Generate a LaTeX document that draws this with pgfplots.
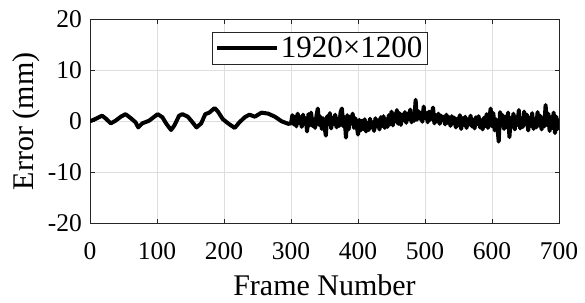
\documentclass[border=0pt]{standalone}
\usepackage{fontspec}
\setmainfont{Liberation Serif}
\usepackage{pgfplots}
\pgfplotsset{compat=1.18}
\definecolor{gridgray}{RGB}{222,222,222}
\definecolor{axgray}{RGB}{38,38,38}
\pgfplotstableread{
f y
0 0
8 0.45
18 1.1
23 0.6
31 -0.4
38 0.1
46 0.9
53 1.4
61 0.6
68 -0.2
72 -1.2
78 -0.4
88 0.1
96 0.9
101 1.4
108 0.8
114 -0.5
121 -1.7
126 -0.8
133 1.1
138 1.4
146 0.9
153 -0.2
159 -1.2
166 -0.4
172 1.4
178 1.7
186 2.6
191 1.9
198 0.45
206 -0.4
216 -1.3
223 -0.2
231 0.8
238 1.3
246 0.9
256 1.7
266 1.5
276 0.9
286 0.0
296 -0.5
300 -0.4
302 1.2
304 -0.6
306 0.9
308 -1.0
310 1.5
312 -0.3
314 0.8
316 -1.1
318 1.3
320 -0.5
322 0.6
324 -2.0
326 1.4
328 -0.8
330 1.7
332 -0.9
334 0.4
336 -1.3
338 1.1
340 2.5
342 -0.7
344 0.9
346 -1.5
348 0.6
350 -1.1
352 -2.8
354 1.0
356 -0.6
358 1.6
360 -1.4
362 0.7
364 -0.5
366 1.3
368 -1.2
370 0.5
372 -0.9
374 1.8
376 2.5
378 -1.0
380 0.8
382 -3.2
384 1.2
386 -1.6
388 0.9
390 -0.4
392 1.5
394 -1.3
396 0.6
398 -0.8
400 -2.6
402 0.3
404 -1.8
406 0.1
408 -1.5
410 0.4
412 -2.0
414 -0.3
416 -1.7
418 0.5
420 -1.2
422 -0.2
424 -1.9
426 0.6
428 -1.0
430 0.2
432 -1.6
434 0.8
436 -0.9
438 1.0
440 -1.3
442 0.4
444 -1.1
446 1.2
448 -0.6
450 1.9
452 -0.8
454 1.4
456 0.0
458 2.2
460 -0.5
462 1.6
464 -0.7
466 1.3
468 0.2
470 1.8
472 -0.3
474 1.5
476 0.4
478 2.3
480 -0.2
482 1.2
484 0.1
486 4.2
488 0.3
490 2.0
492 0.5
494 1.7
496 -0.1
498 2.9
500 0.6
502 1.6
504 -0.2
506 1.9
508 0.3
510 1.4
512 2.7
514 -0.4
516 1.2
518 0.0
520 1.5
522 -0.5
524 1.1
526 0.2
528 0.9
530 -0.6
532 1.3
534 -0.3
536 0.8
538 -0.9
540 1.0
542 -0.4
544 0.7
546 -1.2
548 0.5
550 -0.8
552 1.2
554 -1.5
556 0.6
558 -0.7
560 0.9
562 -1.3
564 0.4
566 -0.6
568 1.1
570 -1.0
572 0.3
574 -1.4
576 0.8
578 -0.5
580 1.0
582 -1.2
584 0.2
586 -1.6
588 0.7
590 -0.9
592 1.4
594 -1.3
596 0.5
598 2.5
600 -1.0
602 1.6
604 -1.8
606 0.4
608 -1.1
610 -4.0
612 1.8
614 -0.8
616 1.2
618 -1.5
620 0.9
622 -1.2
624 1.7
626 -3.1
628 0.6
630 -1.0
632 1.5
634 -1.6
636 0.8
638 -0.7
640 2.2
642 -1.4
644 0.5
646 -1.1
648 1.9
650 -0.6
652 1.3
654 -1.8
656 0.7
658 -0.9
660 1.6
662 -1.5
664 0.4
666 -1.2
668 1.8
670 -0.8
672 1.1
674 -1.6
676 0.6
678 -1.0
680 3.2
682 -0.7
684 1.5
686 -1.9
688 0.8
690 -1.3
692 1.7
694 -2.3
696 0.9
698 -1.5
700 0.5
}\errdata
\begin{document}
\begin{tikzpicture}
\useasboundingbox (0,0) rectangle (585pt,302pt);
\begin{axis}[
  at={(90pt,78.7pt)}, anchor=south west,
  scale only axis,
  width=469pt, height=204pt,
  xmin=0, xmax=700, ymin=-20, ymax=20,
  xtick={0,100,...,700},
  ytick={-20,-10,0,10,20},
  yticklabels={-20,-10,0,10,20},
  xticklabels={0,100,200,300,400,500,600,700},
  grid=major,
  major grid style={draw=gridgray, line width=0.8pt},
  axis line style={draw=axgray, line width=0.8pt},
  tick style={draw=axgray, line width=0.8pt},
  major tick length=4.5pt,
  tick align=inside,
  ticklabel style={font=\fontsize{25.5}{30}\selectfont},
  xticklabel style={anchor=base, yshift=-36.7pt, inner sep=0pt},
  yticklabel style={anchor=east, xshift=-8pt, inner sep=0pt},
  xlabel={Frame Number},
  ylabel={Error (mm)},
  label style={font=\fontsize{30}{34}\selectfont},
  xlabel style={at={(axis description cs:0.5,-0.3515)}, anchor=base, inner sep=0pt},
  ylabel style={at={(axis description cs:-0.1365,0.5)}, anchor=center, inner sep=0pt},
  legend style={at={(0.26,0.939)}, anchor=north west, draw=axgray, line width=0.8pt,
    font=\fontsize{31}{35}\selectfont, inner xsep=3pt, inner ysep=3pt},
  legend cell align=left,
  legend image code/.code={\draw[#1, line width=3.5pt] (0pt,0pt) -- (60pt,0pt);},
]
\addplot[black, line width=4pt, line join=round] table[x=f, y=y] {\errdata};
\addlegendentry{1920×1200}
\end{axis}
\end{tikzpicture}
\end{document}
